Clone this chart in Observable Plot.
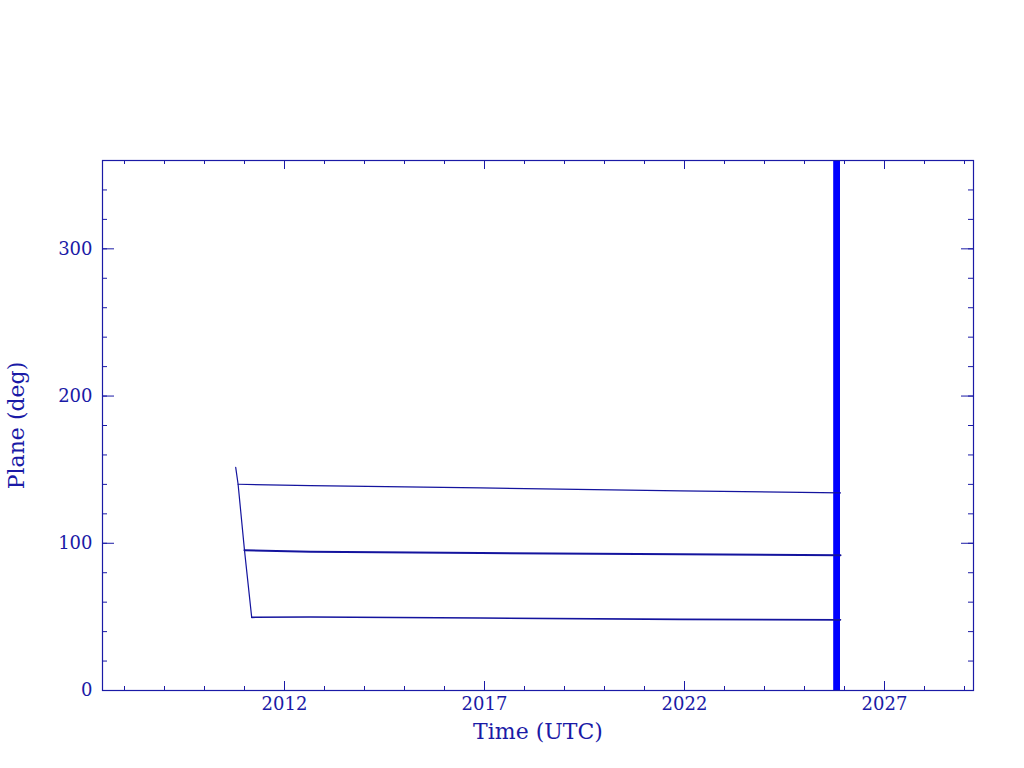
<!DOCTYPE html>
<html><head><meta charset="utf-8">
<script src="https://cdn.jsdelivr.net/npm/d3@7"></script>
<script src="https://cdn.jsdelivr.net/npm/@observablehq/plot@0.6"></script>
<style>body{margin:0;background:#fff}</style>
</head><body><div id="chart"></div>
<script>
// Data
const descentYears = [2010.78, 2010.84, 2011.0, 2011.18];
const descentPlane = [151.5, 140.1, 95.2, 49.7];

const plane1Years = [2010.84, 2012.65, 2016.9, 2021.9, 2025.9];
const plane1Values = [140.1, 139.2, 137.6, 135.6, 134.2];

const plane2Years = [2011.0, 2012.65, 2016.9, 2021.9, 2025.9];
const plane2Values = [95.2, 94.3, 93.4, 92.5, 91.8];

const plane3Years = [2011.18, 2012.65, 2016.9, 2021.9, 2025.9];
const plane3Values = [49.7, 49.9, 49.2, 48.3, 48.0];

const bandStart = [2025.73];
const bandEnd = [2025.9];
const bandLow = [0];
const bandHigh = [360];

const xMajorTicks = [2012, 2017, 2022, 2027];
const xMinorTicks = d3.range(2008, 2030);
const yMajorTicks = [0, 100, 200, 300];
const yMinorTicks = d3.range(0, 361, 20);

const xLabel = "Time (UTC)";
const yLabel = "Plane (deg)";

// Build tables
const toRows = (xs, ys) => xs.map((x, i) => ({year: x, plane: ys[i]}));
const descent = toRows(descentYears, descentPlane);
const p1 = toRows(plane1Years, plane1Values);
const p2 = toRows(plane2Years, plane2Values);
const p3 = toRows(plane3Years, plane3Values);
const band = bandStart.map((s, i) => ({x1: s, x2: bandEnd[i], y1: bandLow[i], y2: bandHigh[i]}));

const W = 1024, H = 768;
const mL = 102, mR = 51, mT = 160, mB = 78;
const PW = W - mL - mR, PH = H - mT - mB;
const AX = "#1a1aa6";
const LC = "#14149e";
const FONT = "DejaVu Serif";

const chart = Plot.plot({
  width: W, height: H,
  marginLeft: mL, marginRight: mR, marginTop: mT, marginBottom: mB,
  style: {color: AX, fontFamily: FONT, background: "#fff"},
  x: {domain: [2007.45, 2029.225]},
  y: {domain: [0, 360]},
  marks: [
    Plot.rect(band, {x1: "x1", x2: "x2", y1: "y1", y2: "y2", fill: "#0000ff"}),
    Plot.line(descent, {x: "year", y: "plane", stroke: LC, strokeWidth: 1.2}),
    Plot.line(p1, {x: "year", y: "plane", stroke: LC, strokeWidth: 1.2}),
    Plot.line(p2, {x: "year", y: "plane", stroke: LC, strokeWidth: 2}),
    Plot.line(p3, {x: "year", y: "plane", stroke: LC, strokeWidth: 1.6}),
    Plot.frame({stroke: AX, strokeWidth: 1.2}),
    // inward ticks, bottom and top
    Plot.ruleX(xMinorTicks, {insetTop: PH - 4, stroke: AX}),
    Plot.ruleX(xMajorTicks, {insetTop: PH - 9, stroke: AX}),
    Plot.ruleX(xMinorTicks, {insetBottom: PH - 4, stroke: AX}),
    Plot.ruleX(xMajorTicks, {insetBottom: PH - 9, stroke: AX}),
    // inward ticks, left and right
    Plot.ruleY(yMinorTicks, {insetRight: PW - 5, stroke: AX}),
    Plot.ruleY(yMajorTicks, {insetRight: PW - 12, stroke: AX}),
    Plot.ruleY(yMinorTicks, {insetLeft: PW - 5, stroke: AX}),
    Plot.ruleY(yMajorTicks, {insetLeft: PW - 12, stroke: AX}),
    Plot.axisX({ticks: xMajorTicks, tickSize: 0, tickPadding: 7, tickFormat: d => String(d), fontSize: 18, label: null}),
    Plot.axisY({ticks: yMajorTicks, tickSize: 0, tickPadding: 10, tickFormat: d => String(d), fontSize: 18, label: null}),
    Plot.text([xLabel], {frameAnchor: "bottom", dy: 48, fontSize: 22, fill: AX}),
    Plot.text([yLabel], {frameAnchor: "left", textAnchor: "middle", dx: -86, rotate: -90, fontSize: 22, fill: AX})
  ]
});
document.getElementById("chart").appendChild(chart);
</script></body></html>
